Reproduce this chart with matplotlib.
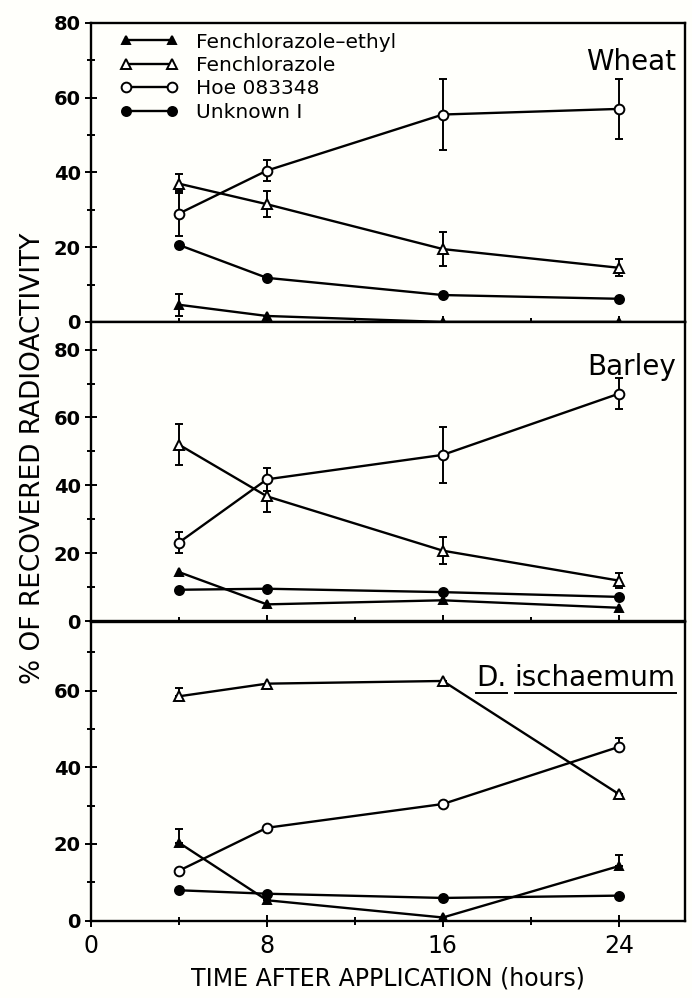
import matplotlib
matplotlib.use("Agg")
import matplotlib.pyplot as plt
from matplotlib.ticker import MultipleLocator
from matplotlib.lines import Line2D
from matplotlib import font_manager

# sampling times (hours)
hours = [4, 8, 16, 24]

# Wheat
wheat_fe = [4.6, 1.6, 0.0, 0.0]
wheat_fe_err = [3.0, 0, 0, 0]
wheat_f = [37.0, 31.5, 19.5, 14.5]
wheat_f_err = [2.5, 3.5, 4.5, 2.3]
wheat_hoe = [29.0, 40.5, 55.5, 57.0]
wheat_hoe_err = [6.0, 2.7, 9.5, 8.0]
wheat_unk = [20.6, 11.8, 7.2, 6.2]

# Barley
barley_fe = [14.5, 5.0, 6.2, 4.0]
barley_f = [52.0, 36.8, 20.8, 12.0]
barley_f_err = [6.0, 4.5, 4.0, 2.3]
barley_hoe = [23.2, 41.8, 49.0, 67.0]
barley_hoe_err = [3.0, 3.4, 8.3, 4.5]
barley_unk = [9.3, 9.6, 8.6, 7.2]

# D. ischaemum (only upper error bars visible)
disch_fe = [20.3, 5.3, 0.8, 14.2]
disch_fe_err = [3.5, 0, 0, 2.8]
disch_f = [58.5, 61.8, 62.5, 33.0]
disch_f_err = [2.2, 0, 0, 0]
disch_hoe = [13.0, 24.2, 30.4, 45.3]
disch_hoe_err = [0, 0, 0, 2.4]
disch_unk = [7.9, 7.0, 5.9, 6.5]

names = ["Fenchlorazole\u2013ethyl", "Fenchlorazole", "Hoe 083348", "Unknown I"]

# narrow face for the y label if there is one
installed = {f.name for f in font_manager.fontManager.ttflist}
ylab_font = "Liberation Sans Narrow" if "Liberation Sans Narrow" in installed else "DejaVu Sans"

fig = plt.figure(figsize=(6.92, 9.98), dpi=100)
fig.patch.set_facecolor("#fffffb")

left, width, h = 0.1315, 0.858, 0.2996
ax_w = fig.add_axes([left, 0.6774, width, h])
ax_b = fig.add_axes([left, 0.3774, width, h])
ax_d = fig.add_axes([left, 0.0776, width, h])

styles = [
    dict(marker="^", mfc="black", ms=5.5),
    dict(marker="^", mfc="white", ms=6.5),
    dict(marker="o", mfc="white", ms=7),
    dict(marker="o", mfc="black", ms=6.5),
]


def draw(ax, series, errs, upper_only=False):
    for i, (vals, err) in enumerate(zip(series, errs)):
        st = styles[i]
        if err is not None:
            lo = [0] * len(err) if upper_only else err
            ax.errorbar(hours, vals, yerr=[lo, err], fmt="none", ecolor="black",
                        elinewidth=1.4, capsize=3, capthick=1.4, zorder=2)
        ax.plot(hours, vals, color="black", lw=1.7, marker=st["marker"],
                mfc=st["mfc"], mec="black", mew=1.4, ms=st["ms"], zorder=3,
                label=names[i])


draw(ax_w, [wheat_fe, wheat_f, wheat_hoe, wheat_unk],
     [wheat_fe_err, wheat_f_err, wheat_hoe_err, None])
draw(ax_b, [barley_fe, barley_f, barley_hoe, barley_unk],
     [None, barley_f_err, barley_hoe_err, None])
draw(ax_d, [disch_fe, disch_f, disch_hoe, disch_unk],
     [disch_fe_err, disch_f_err, disch_hoe_err, None], upper_only=True)

ax_w.set_ylim(0, 80)
ax_b.set_ylim(0, 88)
ax_d.set_ylim(0, 78)

for ax in (ax_w, ax_b, ax_d):
    ax.set_facecolor("#fffffb")
    ax.set_xlim(0, 27)
    ax.xaxis.set_major_locator(MultipleLocator(8))
    ax.xaxis.set_minor_locator(MultipleLocator(4))
    ax.yaxis.set_major_locator(MultipleLocator(20))
    ax.yaxis.set_minor_locator(MultipleLocator(10))
    ax.tick_params(which="major", direction="inout", length=9, width=1.4, pad=4)
    ax.tick_params(which="minor", direction="inout", length=6, width=1.4)
    ax.tick_params(axis="y", labelsize=14, pad=3)
    for lab in ax.get_yticklabels():
        lab.set_fontweight("bold")
    for sp in ax.spines.values():
        sp.set_linewidth(1.7)
    if ax is not ax_d:
        ax.tick_params(axis="x", labelbottom=False)

ax_d.tick_params(axis="x", labelsize=17, pad=5)

leg = ax_w.legend(loc="upper left", bbox_to_anchor=(0.035, 0.995), frameon=False,
                  numpoints=2, handlelength=2.9, handletextpad=0.9,
                  labelspacing=0.22, fontsize=14.5, borderaxespad=0)

ax_w.text(0.985, 0.87, "Wheat", transform=ax_w.transAxes, ha="right",
          va="center", fontsize=20)
ax_b.text(0.985, 0.85, "Barley", transform=ax_b.transAxes, ha="right",
          va="center", fontsize=20)

t2 = ax_d.text(0.985, 0.81, "ischaemum", transform=ax_d.transAxes, ha="right",
               va="center", fontsize=20)
fig.canvas.draw()
r = fig.canvas.get_renderer()
bb2 = t2.get_window_extent(r)
x2 = ax_d.transAxes.inverted().transform((bb2.x0, bb2.y0))[0]
t1 = ax_d.text(x2 - 0.014, 0.81, "D.", transform=ax_d.transAxes, ha="right",
               va="center", fontsize=20)
bb1 = t1.get_window_extent(r)
inv = fig.transFigure.inverted()
for bb in (bb1, bb2):
    (fx0, fy0) = inv.transform((bb.x0, bb.y0 - 1))
    (fx1, _) = inv.transform((bb.x1, bb.y0))
    fig.add_artist(Line2D([fx0, fx1], [fy0, fy0], color="black", lw=1.4))

fig.text(0.048, 0.541, "% OF RECOVERED RADIOACTIVITY", rotation=90,
         ha="center", va="center", fontsize=24 if ylab_font != "DejaVu Sans" else 19,
         family=ylab_font)
fig.text(left + width / 2, 0.02, "TIME AFTER APPLICATION (hours)",
         ha="center", va="center", fontsize=17)

fig.savefig("out.png", dpi=100, facecolor=fig.get_facecolor())
